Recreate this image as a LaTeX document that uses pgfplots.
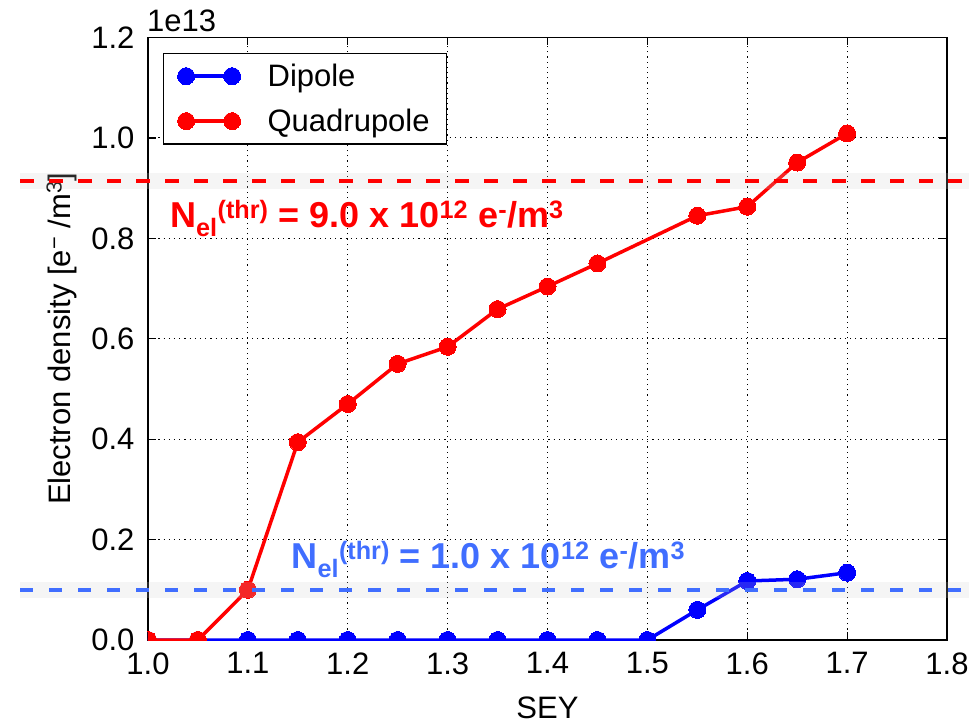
\documentclass[border=0pt]{standalone}
\usepackage{pgfplots}
\pgfplotsset{compat=1.18}
\usepackage{fontspec}
\setmainfont{Liberation Sans}
\definecolor{annblue}{RGB}{64,110,255}
\begin{document}
\begin{tikzpicture}
\useasboundingbox (-148pt,-84pt) rectangle (821pt,640pt);
\pgfplotsset{
  base/.style={
    at={(0pt,0pt)}, anchor=south west,
    scale only axis, width=799pt, height=602.5pt,
    xmin=1.0, xmax=1.8, ymin=0, ymax=1.2,
  }
}
\begin{axis}[
  base,
  clip marker paths=true,
  xtick={1.0,1.1,1.2,1.3,1.4,1.5,1.6,1.7,1.8},
  ytick={0,0.2,0.4,0.6,0.8,1.0,1.2},
  /pgf/number format/assume math mode=true,
  tick label style={font=\fontsize{31}{34}\selectfont},
  xticklabel style={yshift=-9pt, /pgf/number format/.cd, fixed, fixed zerofill, precision=1},
  yticklabel style={xshift=-10pt, /pgf/number format/.cd, fixed, fixed zerofill, precision=1},
  tick align=inside, major tick length=8pt,
  tick style={black, line width=1.2pt},
  axis line style={line width=1.5pt},
  grid=major,
  major grid style={black, line width=1pt, dash pattern=on 1.2pt off 4pt},
  xlabel={SEY},
  ylabel={Electron density [e\textsuperscript{−} /m\textsuperscript{3}]},
  label style={font=\fontsize{31}{34}\selectfont},
  xlabel style={at={(axis description cs:0.5,-0.113)}, anchor=center},
  ylabel style={at={(axis description cs:-0.108,0.5)}, anchor=center},
  legend style={at={(rel axis cs:0.0188,0.975)}, anchor=north west,
    draw=black, line width=1.2pt, font=\fontsize{31}{34}\selectfont,
    nodes={inner sep=3pt},
    inner xsep=14pt, inner ysep=8pt, row sep=15pt, column sep=24pt},
  legend cell align=left,
  legend image code/.code={\draw[#1] plot coordinates {(0pt,0pt) (46pt,0pt)};},
]
\addplot[blue, line width=3.5pt, mark=*, mark size=8.5pt, mark options={solid, fill=blue, draw=blue, line width=0pt}]
  coordinates {(1.0,0)(1.05,0)(1.1,0)(1.15,0)(1.2,0)(1.25,0)(1.3,0)(1.35,0)(1.4,0)(1.45,0)(1.5,0)(1.55,0.060)(1.6,0.1175)(1.65,0.121)(1.7,0.134)};
\addlegendentry{Dipole}
\addplot[red, line width=3.5pt, mark=*, mark size=8.5pt, mark options={solid, fill=red, draw=red, line width=0pt}]
  coordinates {(1.0,0)(1.05,0)(1.1,0.1)(1.15,0.394)(1.2,0.470)(1.25,0.550)(1.3,0.584)(1.35,0.659)(1.4,0.704)(1.45,0.750)(1.55,0.845)(1.6,0.863)(1.65,0.951)(1.7,1.009)};
\addlegendentry{Quadrupole}
\end{axis}
\begin{axis}[base, hide axis, clip=false]
\node[anchor=base west, inner sep=0pt, font=\fontsize{31}{34}\selectfont] at (rel axis cs:0,1) [yshift=5.5pt, xshift=-1pt] {1e13};
\addplot[black!20, opacity=0.2, line width=16pt, forget plot] coordinates {(0.872,0.914) (1.822,0.914)};
\addplot[red, line width=4.5pt, dash pattern=on 14pt off 15pt, forget plot] coordinates {(0.872,0.914) (1.822,0.914)};
\addplot[black!20, opacity=0.2, line width=16pt, forget plot] coordinates {(0.872,0.1) (1.822,0.1)};
\addplot[annblue, line width=4.5pt, dash pattern=on 13pt off 16pt, forget plot] coordinates {(0.872,0.1) (1.822,0.1)};
\node[anchor=base west, inner sep=0pt, text=red, font=\fontsize{36}{38}\selectfont\bfseries] at (axis cs:1.022,0.822)
  {N\textsubscript{el}\textsuperscript{(thr)} = 9.0 x 10\textsuperscript{12} e\textsuperscript{-}/m\textsuperscript{3}};
\node[anchor=base west, inner sep=0pt, text=annblue, font=\fontsize{36}{38}\selectfont\bfseries] at (axis cs:1.1435,0.143)
  {N\textsubscript{el}\textsuperscript{(thr)} = 1.0 x 10\textsuperscript{12} e\textsuperscript{-}/m\textsuperscript{3}};
\end{axis}
\end{tikzpicture}
\end{document}
